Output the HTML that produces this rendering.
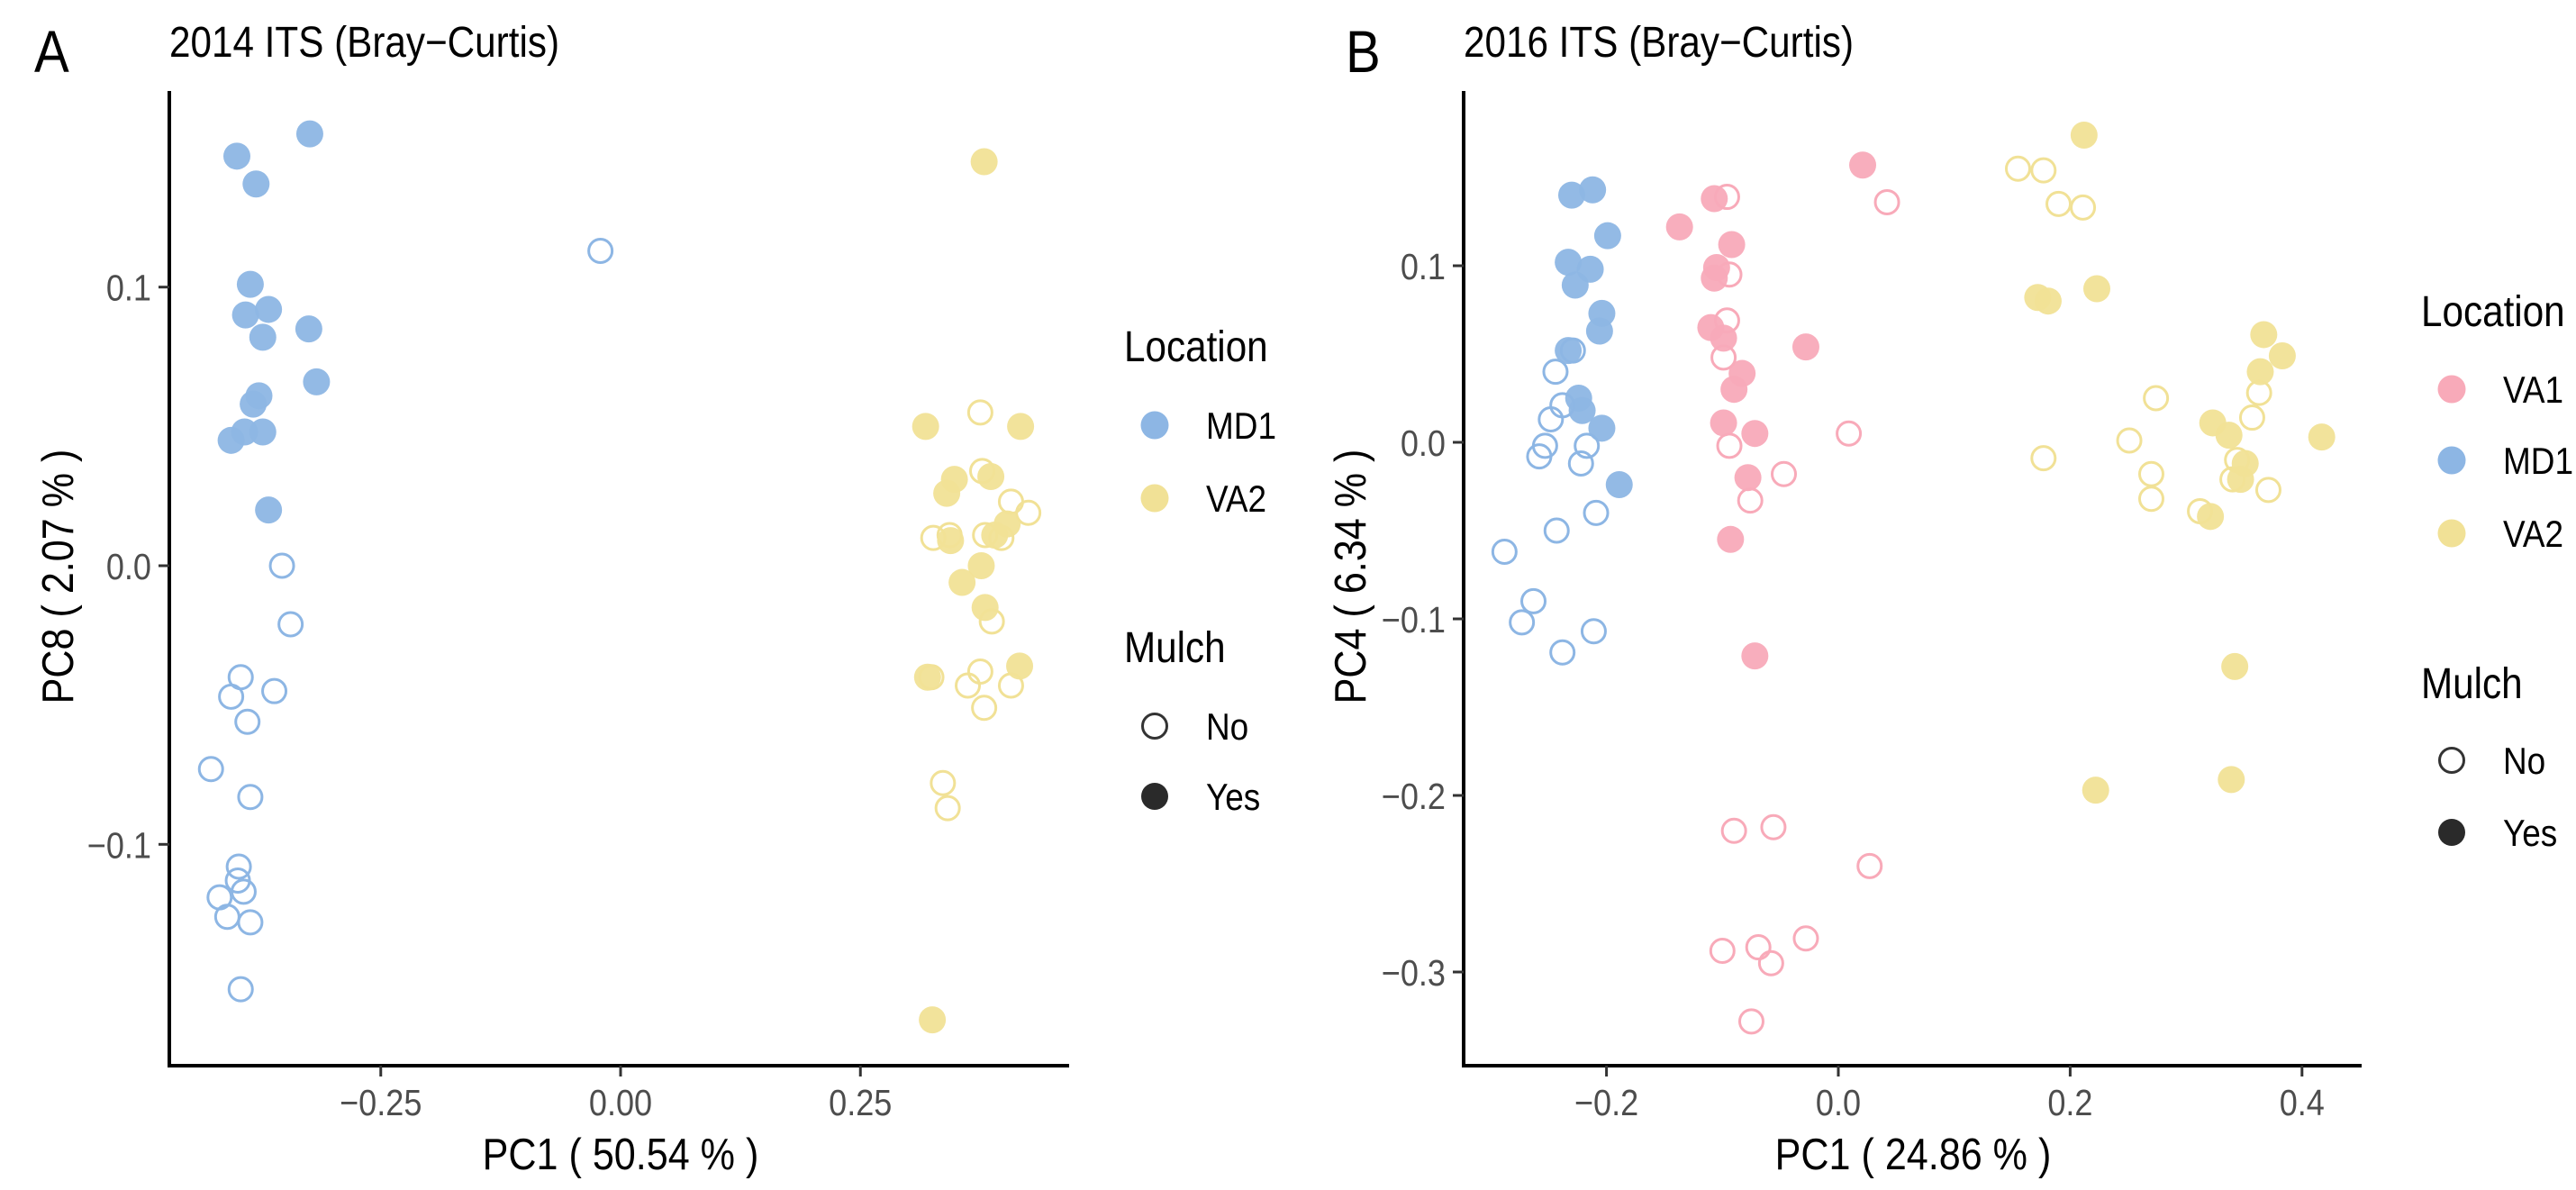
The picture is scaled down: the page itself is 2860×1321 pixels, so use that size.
<!DOCTYPE html>
<html><head><meta charset="utf-8">
<style>
html,body{margin:0;padding:0;background:#fff;}
svg{display:block;}
text{font-family:"Liberation Sans",sans-serif;}
</style></head>
<body>
<svg id="fig" width="2860" height="1321" viewBox="0 0 2860 1321" xmlns="http://www.w3.org/2000/svg">
<g id="pa"></g>
<g id="pb"></g>
</svg>
<script>
// ---- Panel A data ----
const aMD1YesX=[-0.324,-0.400,-0.380,-0.386,-0.391,-0.367,-0.373,-0.325,-0.317,-0.377,-0.383,-0.392,-0.373,-0.406,-0.367];
const aMD1YesY=[0.155,0.147,0.137,0.101,0.090,0.092,0.082,0.085,0.066,0.061,0.058,0.048,0.048,0.045,0.020];
const aMD1NoX=[-0.021,-0.353,-0.344,-0.396,-0.406,-0.361,-0.389,-0.427,-0.386,-0.398,-0.399,-0.393,-0.418,-0.410,-0.386,-0.396];
const aMD1NoY=[0.113,0.000,-0.021,-0.040,-0.047,-0.045,-0.056,-0.073,-0.083,-0.108,-0.113,-0.117,-0.119,-0.126,-0.128,-0.152];
const aVA2YesX=[0.379,0.318,0.417,0.348,0.340,0.386,0.344,0.403,0.390,0.376,0.356,0.380,0.320,0.416,0.325];
const aVA2YesY=[0.145,0.050,0.050,0.031,0.026,0.032,0.009,0.015,0.011,0.000,-0.006,-0.015,-0.040,-0.036,-0.163];
const aVA2NoX=[0.375,0.377,0.407,0.425,0.326,0.343,0.380,0.397,0.387,0.324,0.375,0.362,0.407,0.379,0.336,0.341];
const aVA2NoY=[0.055,0.034,0.023,0.019,0.010,0.011,0.011,0.010,-0.020,-0.040,-0.038,-0.043,-0.043,-0.051,-0.078,-0.087];
const aXTicks=[-0.25,0,0.25];
const aXTickLabels=["\u22120.25","0.00","0.25"];
const aYTicks=[0.1,0,-0.1];
const aYTickLabels=["0.1","0.0","\u22120.1"];
// ---- Panel B data ----
const bVA1YesX=[0.021,-0.107,-0.137,-0.092,-0.105,-0.107,-0.110,-0.099,-0.028,-0.083,-0.090,-0.099,-0.072,-0.078,-0.093,-0.072];
const bVA1YesY=[0.157,0.138,0.122,0.112,0.099,0.093,0.065,0.059,0.054,0.039,0.030,0.011,0.005,-0.020,-0.055,-0.121];
const bVA1NoX=[-0.096,0.042,-0.094,-0.096,-0.099,-0.094,0.009,-0.047,-0.076,-0.090,-0.056,0.027,-0.100,-0.069,-0.058,-0.028,-0.075];
const bVA1NoY=[0.139,0.136,0.095,0.069,0.048,-0.002,0.005,-0.018,-0.033,-0.220,-0.218,-0.240,-0.288,-0.286,-0.295,-0.281,-0.328];
const bMD1YesX=[-0.230,-0.212,-0.199,-0.233,-0.214,-0.227,-0.204,-0.206,-0.233,-0.224,-0.221,-0.204,-0.189];
const bMD1YesY=[0.140,0.143,0.117,0.102,0.098,0.089,0.073,0.063,0.052,0.025,0.018,0.008,-0.024];
const bMD1NoX=[-0.229,-0.244,-0.238,-0.248,-0.253,-0.258,-0.217,-0.222,-0.209,-0.243,-0.288,-0.263,-0.273,-0.211,-0.238];
const bMD1NoY=[0.052,0.040,0.021,0.013,-0.002,-0.008,-0.002,-0.012,-0.040,-0.050,-0.062,-0.090,-0.102,-0.107,-0.119];
const bVA2YesX=[0.212,0.172,0.181,0.223,0.367,0.383,0.364,0.323,0.337,0.417,0.351,0.347,0.321,0.342,0.339,0.222];
const bVA2YesY=[0.174,0.082,0.080,0.087,0.061,0.049,0.040,0.011,0.004,0.003,-0.012,-0.021,-0.042,-0.127,-0.191,-0.197];
const bVA2NoX=[0.155,0.177,0.190,0.211,0.274,0.363,0.357,0.251,0.177,0.270,0.270,0.344,0.340,0.371,0.312];
const bVA2NoY=[0.155,0.154,0.135,0.133,0.025,0.028,0.014,0.001,-0.009,-0.018,-0.032,-0.010,-0.021,-0.027,-0.039];
const bXTicks=[-0.2,0,0.2,0.4];
const bXTickLabels=["\u22120.2","0.0","0.2","0.4"];
const bYTicks=[0.1,0,-0.1,-0.2,-0.3];
const bYTickLabels=["0.1","0.0","\u22120.1","\u22120.2","\u22120.3"];

const NS="http://www.w3.org/2000/svg";
const COL={MD1:"#8db6e4",VA2:"#f1e196",VA1:"#f8aab9"};
const SX=0.88;
function mk(parent,tag,attrs,txt){const e=document.createElementNS(NS,tag);for(const k in attrs)e.setAttribute(k,attrs[k]);if(txt!==undefined)e.textContent=txt;parent.appendChild(e);return e;}
function tx(parent,x,y,size,fill,anchor,str,rot){
  const tr=`translate(${x},${y})`+(rot?" rotate(-90)":"")+` scale(${SX},1)`;
  return mk(parent,"text",{x:0,y:0,"font-size":size,fill:fill,"text-anchor":anchor,transform:tr},str);
}

function panel(g,cfg){
  const sx=v=>cfg.x0+v*cfg.xu, sy=v=>cfg.y0-v*cfg.yu;
  let e;
  e=tx(g,cfg.letterX,80,66,"#000","start",cfg.letter);
  
  
  e=tx(g,cfg.left,63,48,"#000","start",cfg.title);
  
  
  for(const s of cfg.series){
    const grp=mk(g,"g",{});
    
    
    for(let i=0;i<s.x.length;i++){
      const c=mk(grp,"circle",{cx:sx(s.x[i]),cy:sy(s.y[i]),r:s.fill?15:13,
        fill:s.fill?s.col:"none",stroke:s.col,"stroke-width":s.fill?0:3,opacity:s.fill?0.95:1});
      
      
    }
  }
  e=mk(g,"line",{x1:cfg.left,y1:101,x2:cfg.left,y2:1184,stroke:"#000","stroke-width":4});
  
  
  e=mk(g,"line",{x1:cfg.left-2,y1:1183,x2:cfg.right,y2:1183,stroke:"#000","stroke-width":4});
  
  
  cfg.xt.forEach((v,i)=>{
    const x=sx(v);
    let t=mk(g,"line",{x1:x,y1:1183,x2:x,y2:1195,stroke:"#333","stroke-width":3});
    
    
    t=tx(g,x,1238,41,"#4d4d4d","middle",cfg.xl[i]);
    
    
  });
  cfg.yt.forEach((v,i)=>{
    const y=sy(v);
    let t=mk(g,"line",{x1:cfg.left-12,y1:y,x2:cfg.left,y2:y,stroke:"#333","stroke-width":3});
    
    
    t=tx(g,cfg.left-20,y+15,41,"#4d4d4d","end",cfg.yl[i]);
    
    
  });
  e=tx(g,cfg.x0+cfg.xTitleOff,1298,49,"#000","middle",cfg.xTitle);
  
  
  e=tx(g,cfg.yTitleX,640,49,"#000","middle",cfg.yTitle,true);
  
  
  const L=mk(g,"g",{});
  
  
  e=tx(L,cfg.legX,cfg.locY+17,48,"#000","start","Location");
  
  
  cfg.locs.forEach((n,i)=>{
    const y=cfg.locKeyY[i];
    let c=mk(L,"circle",{cx:cfg.legX+34,cy:y,r:15.5,fill:COL[n]});
    
    
    c=tx(L,cfg.legX+91,y+15,42,"#000","start",n);
    
    
  });
  e=tx(L,cfg.legX,cfg.mulY+17,48,"#000","start","Mulch");
  
  
  ["No","Yes"].forEach((n,i)=>{
    const y=cfg.mulKeyY[i];
    let c=mk(L,"circle",{cx:cfg.legX+34,cy:y,r:i?15:13.5,fill:i?"#2a2a2a":"none",stroke:i?"none":"#333","stroke-width":3});
    
    
    c=tx(L,cfg.legX+91,y+15,42,"#000","start",n);
    
    
  });
}

panel(document.getElementById("pa"),{
  letter:"A",letterX:38,title:"2014 ITS (Bray\u2212Curtis)",left:188,right:1187,
  x0:689,xu:1065,y0:628,yu:3093,xt:aXTicks,xl:aXTickLabels,yt:aYTicks,yl:aYTickLabels,
  xTitle:"PC1 ( 50.54 % )",xTitleOff:0,yTitle:"PC8 ( 2.07 % )",yTitleX:81,
  series:[
    {name:"series-md1-no",x:aMD1NoX,y:aMD1NoY,col:COL.MD1,fill:false},
    {name:"series-va2-no",x:aVA2NoX,y:aVA2NoY,col:COL.VA2,fill:false},
    {name:"series-md1-yes",x:aMD1YesX,y:aMD1YesY,col:COL.MD1,fill:true},
    {name:"series-va2-yes",x:aVA2YesX,y:aVA2YesY,col:COL.VA2,fill:true}],
  legX:1248,locY:384,locs:["MD1","VA2"],locKeyY:[472,553],mulY:718,mulKeyY:[806,884]
});
panel(document.getElementById("pb"),{
  letter:"B",letterX:1494,title:"2016 ITS (Bray\u2212Curtis)",left:1625,right:2622,
  x0:2041,xu:1287,y0:491,yu:1960,xt:bXTicks,xl:bXTickLabels,yt:bYTicks,yl:bYTickLabels,
  xTitle:"PC1 ( 24.86 % )",xTitleOff:83,yTitle:"PC4 ( 6.34 % )",yTitleX:1516,
  series:[
    {name:"series-va1-no",x:bVA1NoX,y:bVA1NoY,col:COL.VA1,fill:false},
    {name:"series-md1-no",x:bMD1NoX,y:bMD1NoY,col:COL.MD1,fill:false},
    {name:"series-va2-no",x:bVA2NoX,y:bVA2NoY,col:COL.VA2,fill:false},
    {name:"series-va1-yes",x:bVA1YesX,y:bVA1YesY,col:COL.VA1,fill:true},
    {name:"series-md1-yes",x:bMD1YesX,y:bMD1YesY,col:COL.MD1,fill:true},
    {name:"series-va2-yes",x:bVA2YesX,y:bVA2YesY,col:COL.VA2,fill:true}],
  legX:2688,locY:345,locs:["VA1","MD1","VA2"],locKeyY:[432,511,592],mulY:758,mulKeyY:[844,924]
});
</script>
</body></html>
